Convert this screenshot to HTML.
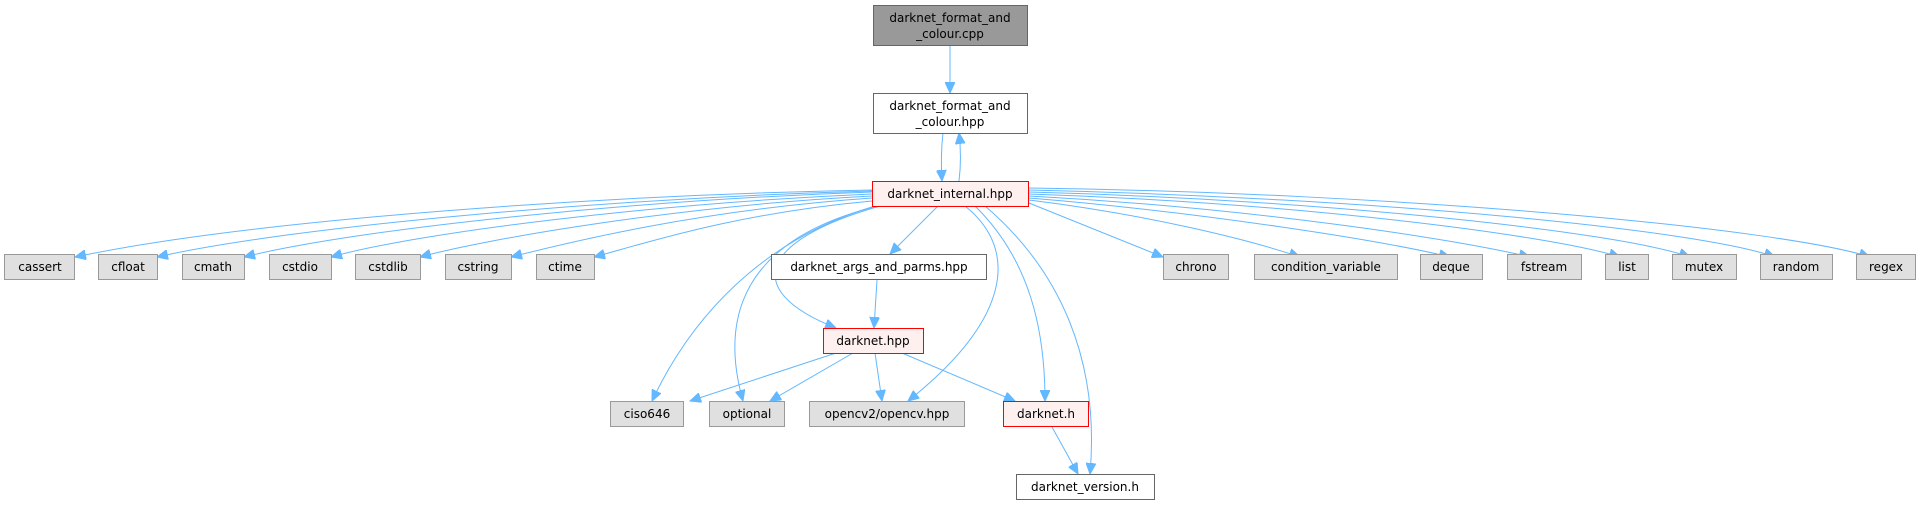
<!DOCTYPE html>
<html><head><meta charset="utf-8"><style>
html,body{margin:0;padding:0;background:#fff;}
svg{display:block;}
text{font-family:"DejaVu Sans","Liberation Sans",sans-serif;font-size:12px;fill:#000;text-anchor:middle;}
.g{fill:#e0e0e0;stroke:#999;stroke-width:1;}
.w{fill:#fff;stroke:#666;stroke-width:1;}
.r{fill:#fff0f0;stroke:#f00;stroke-width:1;}
.e{fill:none;stroke:#63b8ff;stroke-width:1;marker-end:url(#a);}
</style></head><body>
<svg width="1920" height="505" viewBox="0 0 1920 505" xmlns="http://www.w3.org/2000/svg">
<defs><marker id="a" markerWidth="12" markerHeight="10" refX="11" refY="5" orient="auto" markerUnits="userSpaceOnUse"><path d="M0,0 L11,5 L0,10 Z" fill="#63b8ff" stroke="#63b8ff"/></marker></defs>

<!-- edges -->
<path class="e" d="M950,45 L950,93"/>
<path class="e" d="M943,133 C941,150 941,165 942,181"/>
<path class="e" d="M959,181 C961,165 961,150 959,133"/>

<path class="e" d="M872,190 C600,195 250,220 75,257"/>
<path class="e" d="M872,191 C620,198 300,225 157,257"/>
<path class="e" d="M872,192 C640,200 360,228 244,257"/>
<path class="e" d="M872,194 C660,203 420,232 331,257"/>
<path class="e" d="M872,196 C680,206 490,238 420,257"/>
<path class="e" d="M872,198 C700,210 570,242 511,257"/>
<path class="e" d="M872,201 C730,214 640,245 594,257"/>

<path class="e" d="M1029,203 L1163,257"/>
<path class="e" d="M1029,200 C1150,215 1250,240 1300,257"/>
<path class="e" d="M1029,198 C1200,212 1380,240 1450,257"/>
<path class="e" d="M1029,196 C1250,208 1450,238 1530,257"/>
<path class="e" d="M1029,194 C1300,203 1550,235 1620,257"/>
<path class="e" d="M1029,192 C1330,200 1620,232 1690,257"/>
<path class="e" d="M1029,190 C1380,198 1700,230 1775,257"/>
<path class="e" d="M1029,188 C1400,193 1780,228 1870,257"/>

<path class="e" d="M938,206 L890,254"/>
<path class="e" d="M877,280 L874,328"/>
<path class="e" d="M880,206 C760,240 740,290 836,328"/>
<path class="e" d="M875,206 C760,240 690,320 652,401"/>
<path class="e" d="M878,206 C740,240 720,320 743,401"/>
<path class="e" d="M965,206 C1020,250 1010,320 908,401"/>
<path class="e" d="M975,206 C1030,260 1045,330 1045,401"/>
<path class="e" d="M985,206 C1060,270 1100,360 1090,474"/>

<path class="e" d="M836,353 L690,401"/>
<path class="e" d="M853,353 L770,401"/>
<path class="e" d="M875,353 L882,401"/>
<path class="e" d="M902,353 L1015,401"/>
<path class="e" d="M1052,427 L1078,474"/>

<!-- nodes -->
<rect x="873.5" y="5.5" width="154" height="40" fill="#999" stroke="#666"/>
<text x="950" y="22">darknet_format_and</text><text x="950" y="38">_colour.cpp</text>
<rect class="w" x="873.5" y="93.5" width="154" height="40"/>
<text x="950" y="110">darknet_format_and</text><text x="950" y="126">_colour.hpp</text>
<rect class="r" x="872.5" y="181.5" width="156" height="25"/>
<text x="950" y="198">darknet_internal.hpp</text>

<rect class="g" x="4.5" y="254.5" width="70" height="25"/><text x="40" y="271">cassert</text>
<rect class="g" x="98.5" y="254.5" width="59" height="25"/><text x="128" y="271">cfloat</text>
<rect class="g" x="182.5" y="254.5" width="62" height="25"/><text x="213" y="271">cmath</text>
<rect class="g" x="269.5" y="254.5" width="62" height="25"/><text x="300" y="271">cstdio</text>
<rect class="g" x="355.5" y="254.5" width="65" height="25"/><text x="388" y="271">cstdlib</text>
<rect class="g" x="445.5" y="254.5" width="66" height="25"/><text x="478" y="271">cstring</text>
<rect class="g" x="536.5" y="254.5" width="58" height="25"/><text x="565" y="271">ctime</text>
<rect class="w" x="771.5" y="254.5" width="215" height="25"/><text x="879" y="271">darknet_args_and_parms.hpp</text>
<rect class="g" x="1163.5" y="254.5" width="65" height="25"/><text x="1196" y="271">chrono</text>
<rect class="g" x="1254.5" y="254.5" width="143" height="25"/><text x="1326" y="271">condition_variable</text>
<rect class="g" x="1420.5" y="254.5" width="62" height="25"/><text x="1451" y="271">deque</text>
<rect class="g" x="1507.5" y="254.5" width="74" height="25"/><text x="1544" y="271">fstream</text>
<rect class="g" x="1605.5" y="254.5" width="43" height="25"/><text x="1627" y="271">list</text>
<rect class="g" x="1672.5" y="254.5" width="64" height="25"/><text x="1704" y="271">mutex</text>
<rect class="g" x="1760.5" y="254.5" width="72" height="25"/><text x="1796" y="271">random</text>
<rect class="g" x="1856.5" y="254.5" width="59" height="25"/><text x="1886" y="271">regex</text>

<rect class="r" x="823.5" y="328.5" width="100" height="25"/><text x="873" y="345">darknet.hpp</text>

<rect class="g" x="610.5" y="401.5" width="73" height="25"/><text x="647" y="418">ciso646</text>
<rect class="g" x="709.5" y="401.5" width="75" height="25"/><text x="747" y="418">optional</text>
<rect class="g" x="809.5" y="401.5" width="155" height="25"/><text x="887" y="418">opencv2/opencv.hpp</text>
<rect class="r" x="1003.5" y="401.5" width="85" height="25"/><text x="1046" y="418">darknet.h</text>

<rect class="w" x="1016.5" y="474.5" width="138" height="25"/><text x="1085" y="491">darknet_version.h</text>
</svg>
</body></html>
